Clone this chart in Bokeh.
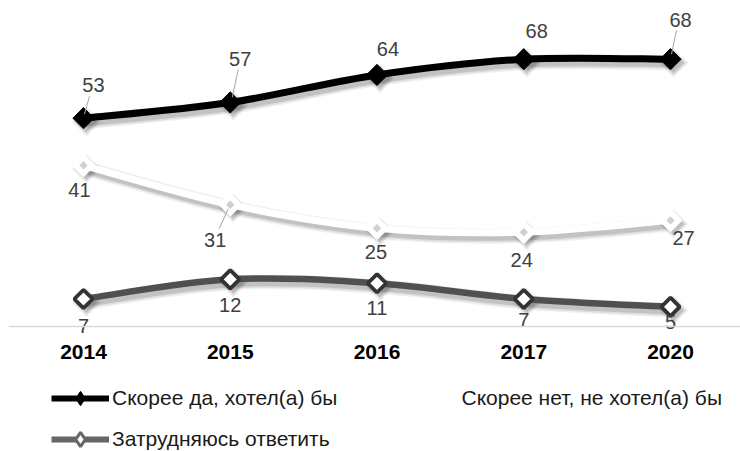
import numpy as np
from bokeh.plotting import figure
from bokeh.layouts import column
from bokeh.models import Range1d, FixedTicker, Legend, LegendItem, ColumnDataSource, Span
from bokeh.embed import file_html
from bokeh.resources import INLINE

# ---- data ----
years = ["2014", "2015", "2016", "2017", "2020"]
yes_vals = [53, 57, 64, 68, 68]
no_vals = [41, 31, 25, 24, 27]
dk_vals = [7, 12, 11, 7, 5]
names = ["Скорее да, хотел(а) бы", "Скорее нет, не хотел(а) бы", "Затрудняюсь ответить"]

xs = list(range(len(years)))

W = 740
LEFT = 8
TOP = 8
FRAME_W = W - LEFT
FRAME_H = 328
H_MAIN = 366
H_LEG = 451 - H_MAIN
X0, X1 = -0.511, 4.477
PX_X = FRAME_W / (X1 - X0)
PX_Y = 3.931
Y1 = 80.9
Y0 = Y1 - FRAME_H / PX_Y

p = figure(width=W, height=H_MAIN, output_backend="svg", toolbar_location=None,
           x_range=Range1d(X0, X1), y_range=Range1d(Y0, Y1),
           min_border_left=LEFT, min_border_right=0, min_border_top=TOP,
           min_border_bottom=H_MAIN - FRAME_H - TOP, y_axis_location=None,
           background_fill_color="white", border_fill_color="white")
p.outline_line_color = None
p.grid.visible = False

ax = p.xaxis[0]
ax.ticker = FixedTicker(ticks=xs)
ax.major_label_overrides = {i: y for i, y in enumerate(years)}
ax.axis_line_color = None
ax.major_tick_line_color = None
ax.minor_tick_line_color = None
ax.major_label_text_font = "Liberation Sans"
ax.major_label_text_font_style = "bold"
ax.major_label_text_font_size = "21px"
ax.major_label_text_color = "#000000"
ax.major_label_standoff = 2

p.add_layout(Span(location=0, dimension="width", line_color="#d9d9d9", line_width=1.5))


def smooth(xv, yv, t=1.0 / 6):
    n = len(xv)
    out = {k: [] for k in ["x0", "y0", "x1", "y1", "cx0", "cy0", "cx1", "cy1"]}
    for i in range(n - 1):
        xa, ya = xv[i], yv[i]
        xb, yb = xv[i + 1], yv[i + 1]
        xp, yp = (xv[i - 1], yv[i - 1]) if i > 0 else (xa, ya)
        xn, yn = (xv[i + 2], yv[i + 2]) if i + 2 < n else (xb, yb)
        out["x0"].append(xa); out["y0"].append(ya)
        out["x1"].append(xb); out["y1"].append(yb)
        out["cx0"].append(xa + (xb - xp) * t); out["cy0"].append(ya + (yb - yp) * t)
        out["cx1"].append(xb - (xn - xa) * t); out["cy1"].append(yb - (yn - ya) * t)
    return out


def shifted(d, dx, dy):
    o = {}
    for k, v in d.items():
        if k.startswith("x") or k.startswith("cx"):
            o[k] = [a + dx for a in v]
        else:
            o[k] = [a + dy for a in v]
    return o


SDX = 3.0 / PX_X
SDY = -3.5 / PX_Y

series = [
    (yes_vals, "#000000", 7),
    (no_vals, "#ffffff", 7),
    (dk_vals, "#505050", 6.5),
]

# shadows
for vals, col, lw in series:
    d = shifted(smooth(xs, vals), SDX, SDY)
    for extra, a in [(8, 0.06), (5, 0.08), (2, 0.12)]:
        p.bezier(source=ColumnDataSource(d), x0="x0", y0="y0", x1="x1", y1="y1",
                 cx0="cx0", cy0="cy0", cx1="cx1", cy1="cy1",
                 line_color="black", line_alpha=a, line_width=lw + extra)
    sx = [x + SDX for x in xs]
    sy = [v + SDY for v in vals]
    for extra, a in [(6, 0.06), (3, 0.09), (0, 0.12)]:
        p.scatter(sx, sy, marker="square", angle=np.pi / 4, size=15 + extra,
                  fill_color="black", fill_alpha=a, line_color=None)

# lines
for vals, col, lw in series:
    d = smooth(xs, vals)
    p.bezier(source=ColumnDataSource(d), x0="x0", y0="y0", x1="x1", y1="y1",
             cx0="cx0", cy0="cy0", cx1="cx1", cy1="cy1",
             line_color=col, line_width=lw, line_cap="round")

# markers
p.scatter(xs, yes_vals, marker="square", angle=np.pi / 4, size=15,
          fill_color="black", line_color="black", line_width=1)
p.scatter(xs, no_vals, marker="square", angle=np.pi / 4, size=15,
          fill_color="white", line_color="white", line_width=2)
p.scatter(xs, no_vals, marker="square", angle=np.pi / 4, size=6,
          fill_color="#d0d0d0", line_color=None)
p.scatter(xs, dk_vals, marker="square", angle=np.pi / 4, size=13,
          fill_color="white", line_color="#333333", line_width=3.8)

# leader lines (pixel offsets from markers)
leaders = [
    (xs[0], yes_vals[0], (1, -4), (6, -22)),
    (xs[1], yes_vals[1], (2, -5), (8, -33)),
    (xs[4], yes_vals[4], (1, -5), (6, -29)),
    (xs[1], no_vals[1], (-2, 4), (-11, 24)),
]
for x, v, (ax0, ay0), (ax1, ay1) in leaders:
    p.segment(x0=[x + ax0 / PX_X], y0=[v - ay0 / PX_Y],
              x1=[x + ax1 / PX_X], y1=[v - ay1 / PX_Y],
              line_color="#a6a6a6", line_width=1)

# data labels
yes_off = [(10, -33), (10, -43), (11, -26), (13, -28), (10, -39)]
no_off = [(-4, 25), (-15, 35), (-1, 24), (-2, 28), (13, 18)]
dk_off = [(0, 27), (0, 26), (0, 25), (0, 21), (0, 15)]
for vals, offs in [(yes_vals, yes_off), (no_vals, no_off), (dk_vals, dk_off)]:
    p.text(x=xs, y=vals, text=[str(v) for v in vals],
           x_offset=[o[0] for o in offs], y_offset=[o[1] for o in offs],
           text_align="center", text_baseline="middle",
           text_font={"value": "Liberation Sans"}, text_font_size="20px",
           text_color="#404040")

# legend figure
q = figure(width=W, height=H_LEG, output_backend="svg", toolbar_location=None,
           x_range=Range1d(0, 1), y_range=Range1d(0, 1),
           min_border_left=0, min_border_right=0, min_border_top=0, min_border_bottom=0,
           x_axis_location=None, y_axis_location=None,
           background_fill_color="white", border_fill_color="white")
q.outline_line_color = None
q.grid.visible = False

OUT = [5.0]
l1 = q.line(OUT, OUT, line_color="black", line_width=6)
m1 = q.scatter(OUT, OUT, marker="diamond", size=17, fill_color="black", line_color="black")
l2 = q.line(OUT, OUT, line_color="white", line_width=6)
m2 = q.scatter(OUT, OUT, marker="diamond", size=17, fill_color="white", line_color="white")
l3 = q.line(OUT, OUT, line_color="#666666", line_width=6)
m3 = q.scatter(OUT, OUT, marker="diamond", size=15, fill_color="white", line_color="#666666", line_width=3)


def mk_legend(items, loc, spacing):
    return Legend(items=items, orientation="horizontal", location=loc,
                  glyph_width=58, glyph_height=36, label_height=20,
                  label_standoff=3, spacing=spacing, padding=0, margin=0,
                  border_line_color=None, background_fill_alpha=0,
                  label_text_font="Liberation Sans", label_text_font_size="21px",
                  label_text_color="#1a1a1a")


leg1 = mk_legend([LegendItem(label=names[0], renderers=[l1, m1]),
                  LegendItem(label=names[1], renderers=[l2, m2])], (43, 35), 63)
leg2 = mk_legend([LegendItem(label=names[2], renderers=[l3, m3])], (43, -6), 0)
q.add_layout(leg1)
q.add_layout(leg2)

layout = column(p, q, spacing=0)
open("out.html", "w").write(file_html(layout, INLINE))
